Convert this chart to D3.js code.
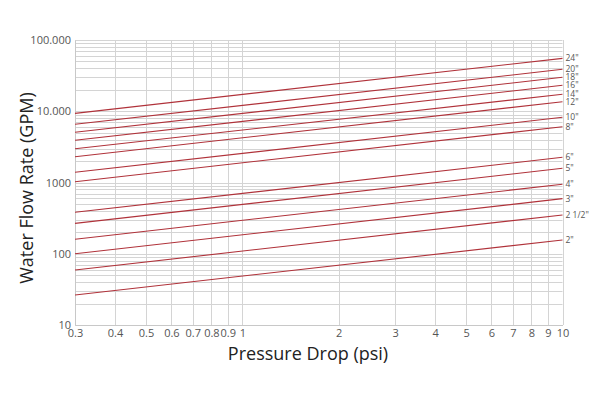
<!DOCTYPE html>
<html><head><meta charset="utf-8">
<script src="https://cdn.jsdelivr.net/npm/d3@7"></script>
<style>
body{margin:0;background:#fff;}
text{font-family:"Open Sans","Noto Sans",sans-serif;}
</style></head>
<body><svg id="c" width="600" height="400"></svg>
<script>
// Pipe sizes and flow (GPM) read at the two ends of the pressure range
const sizes = ['24"','20"','18"','16"','14"','12"','10"','8"','6"','5"','4"','3"','2 1/2"','2"'];
const pressureEnds = [0.3, 10];
const flowAtLow  = [9350, 6560, 5070, 3910, 2980, 2300, 1390, 1026, 382, 267, 160, 100, 59.2, 26.4];
const flowAtHigh = [55300, 38800, 29950, 23130, 17300, 13620, 8225, 6070, 2259, 1582, 944, 593, 350, 156];
const xTicks = [0.3,0.4,0.5,0.6,0.7,0.8,0.9,1,2,3,4,5,6,7,8,9,10];
const xTickLabels = ["0.3","0.4","0.5","0.6","0.7","0.8","0.9","1","2","3","4","5","6","7","8","9","10"];
const yTicks = [10,100,1000,10000,100000];
const yTickLabels = ["10","100","1000","10.000","100.000"];

const svg = d3.select("#c");
const x = d3.scaleLog().domain([0.3,10]).range([75,562.5]);
const y = d3.scaleLog().domain([10,100000]).range([325,40]);

// minor horizontal grid
const yMinor = [];
for (let d=10; d<100000; d*=10) for (let k=1;k<10;k++) yMinor.push(d*k);
yMinor.push(100000);
const g = svg.append("g");
g.selectAll("line.h").data(yMinor).join("line")
  .attr("x1",x(0.3)).attr("x2",x(10))
  .attr("y1",d=>Math.round(y(d))+0.5).attr("y2",d=>Math.round(y(d))+0.5)
  .attr("stroke","#d4d4d4").attr("stroke-width",1);
g.selectAll("line.v").data(xTicks).join("line")
  .attr("y1",y(10)).attr("y2",y(100000))
  .attr("x1",d=>Math.round(x(d))+0.5).attr("x2",d=>Math.round(x(d))+0.5)
  .attr("stroke","#d4d4d4").attr("stroke-width",1);

// axes (labels only)
const xAxis = d3.axisBottom(x).tickValues(xTicks).tickFormat((d,i)=>xTickLabels[i]).tickSize(0).tickPadding(4);
const gx = svg.append("g").attr("transform",`translate(0,${y(10)})`).call(xAxis);
gx.select(".domain").attr("stroke","#c8c8c8");
gx.selectAll("text").attr("fill","#555").attr("font-size",11);

const yAxis = d3.axisLeft(y).tickValues(yTicks).tickFormat((d,i)=>yTickLabels[i]).tickSize(0).tickPadding(4);
const gy = svg.append("g").attr("transform",`translate(${x(0.3)},0)`).call(yAxis);
gy.select(".domain").attr("stroke","#c8c8c8");
gy.selectAll("text").attr("fill","#555").attr("font-size",11);

// series
const series = sizes.map((s,i)=>({name:s, pts:[[pressureEnds[0],flowAtLow[i]],[pressureEnds[1],flowAtHigh[i]]]}));
const line = d3.line().x(d=>x(d[0])).y(d=>y(d[1]));
svg.append("g").selectAll("path").data(series).join("path")
  .attr("d",d=>line(d.pts)).attr("fill","none")
  .attr("stroke","#b0323a").attr("stroke-width",1.1);

svg.append("g").selectAll("text").data(series).join("text")
  .attr("x",x(10)+3).attr("y",d=>y(d.pts[1][1]))
  .attr("dy","0.35em").attr("font-size",8.5).attr("fill","#555")
  .text(d=>d.name);

// titles
svg.append("text").attr("x",308).attr("y",360).attr("text-anchor","middle")
  .attr("font-size",18).attr("fill","#222").text("Pressure Drop (psi)");
svg.append("text").attr("transform","translate(33,188) rotate(-90)").attr("text-anchor","middle")
  .attr("font-size",18).attr("fill","#222").text("Water Flow Rate (GPM)");
</script></body></html>
